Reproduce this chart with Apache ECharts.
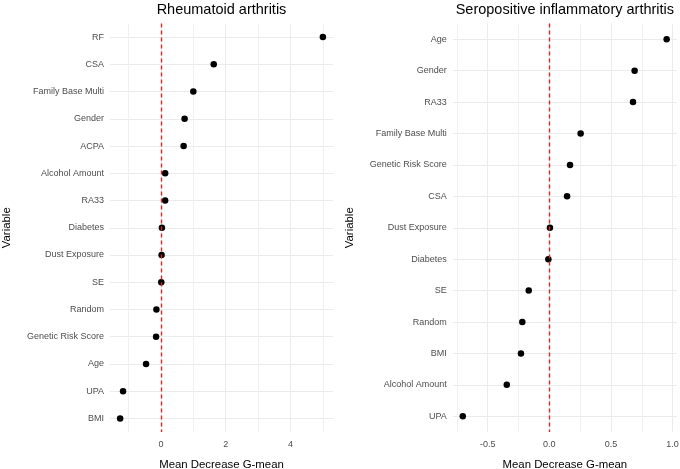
<!DOCTYPE html>
<html>
<head>
<meta charset="utf-8">
<script src="https://cdn.jsdelivr.net/npm/echarts@6/dist/echarts.min.js"></script>
<style>
  html, body { margin: 0; padding: 0; background: #fff; }
  #chart { width: 680px; height: 469px; }
</style>
</head>
<body>
<div id="chart"></div>
<script>
// Rheumatoid arthritis panel (top to bottom)
const raVars = ['RF', 'CSA', 'Family Base Multi', 'Gender', 'ACPA', 'Alcohol Amount', 'RA33',
    'Diabetes', 'Dust Exposure', 'SE', 'Random', 'Genetic Risk Score', 'Age', 'UPA', 'BMI'];
const raValues = [5.0, 1.63, 1.0, 0.73, 0.70, 0.13, 0.13, 0.03, 0.02, 0.01, -0.14, -0.15, -0.46, -1.17, -1.26];

// Seropositive inflammatory arthritis panel (top to bottom)
const siaVars = ['Age', 'Gender', 'RA33', 'Family Base Multi', 'Genetic Risk Score', 'CSA',
    'Dust Exposure', 'Diabetes', 'SE', 'Random', 'BMI', 'Alcohol Amount', 'UPA'];
const siaValues = [0.952, 0.692, 0.679, 0.254, 0.168, 0.144, 0.005, -0.008, -0.167, -0.219, -0.23, -0.345, -0.702];

const titles = ['Rheumatoid arthritis', 'Seropositive inflammatory arthritis'];
const xName = 'Mean Decrease G-mean';
const yName = 'Variable';

const font = 'Liberation Sans, Arial, sans-serif';
const gridColor = '#EBEBEB';

const panels = [
    {left: 110, width: 223, min: -1.573, max: 5.313, split: 3, vars: raVars, vals: raValues,
        fmt: v => String(v)},
    {left: 452.8, width: 224.1, min: -0.783, max: 1.035, split: 4, vars: siaVars, vals: siaValues,
        fmt: v => v.toFixed(1)}
];

var myChart = echarts.init(document.getElementById('chart'));

var option = {
    animation: false,
    textStyle: {fontFamily: font},
    title: panels.map((p, i) => ({
        text: titles[i],
        left: p.left + p.width / 2,
        top: 2,
        padding: 0,
        textAlign: 'center',
        textStyle: {fontFamily: font, fontSize: 14.5, fontWeight: 'normal', color: '#000'}
    })),
    grid: panels.map(p => ({
        left: p.left, width: p.width, top: 23.5, bottom: 37,
        containLabel: false, outerBoundsMode: 'none'
    })),
    xAxis: panels.map((p, i) => ({
        type: 'value',
        gridIndex: i,
        min: p.min,
        max: p.max,
        splitNumber: p.split,
        name: xName,
        nameLocation: 'middle',
        nameGap: 27.5,
        nameTextStyle: {fontFamily: font, fontSize: 11.4, color: '#000'},
        axisLine: {show: false},
        axisTick: {show: false},
        axisLabel: {
            fontFamily: font, fontSize: 9, color: '#4D4D4D', margin: 8,
            showMinLabel: false, showMaxLabel: false,
            formatter: p.fmt
        },
        splitLine: {show: true, showMinLine: false, showMaxLine: false,
            lineStyle: {color: gridColor, width: 1}},
        minorTick: {show: false, splitNumber: 2},
        minorSplitLine: {show: true, lineStyle: {color: '#F0F0F0', width: 1}}
    })),
    yAxis: panels.map((p, i) => ({
        type: 'category',
        gridIndex: i,
        inverse: true,
        data: p.vars,
        name: yName,
        nameLocation: 'middle',
        nameGap: 97.5,
        nameTextStyle: {fontFamily: font, fontSize: 11.4, color: '#000'},
        axisLine: {show: false},
        axisTick: {show: false},
        axisLabel: {fontFamily: font, fontSize: 9, color: '#4D4D4D', margin: 6},
        splitLine: {show: true, alignWithLabel: true, lineStyle: {color: gridColor, width: 1}}
    })),
    series: []
};

panels.forEach((p, i) => {
    option.series.push({
        type: 'scatter',
        xAxisIndex: i,
        yAxisIndex: i,
        symbolSize: 6.5,
        itemStyle: {color: '#000', opacity: 1},
        data: p.vals.map((v, k) => [v, p.vars[k]]),
        z: 2
    });
    // dashed reference line at zero, drawn over the points
    option.series.push({
        type: 'scatter',
        xAxisIndex: i,
        yAxisIndex: i,
        data: [],
        z: 5,
        markLine: {
            silent: true,
            symbol: 'none',
            label: {show: false},
            lineStyle: {color: '#D42A2A', type: [4, 3], width: 1.4},
            data: [{xAxis: 0}]
        }
    });
});

myChart.setOption(option);
</script>
</body>
</html>
